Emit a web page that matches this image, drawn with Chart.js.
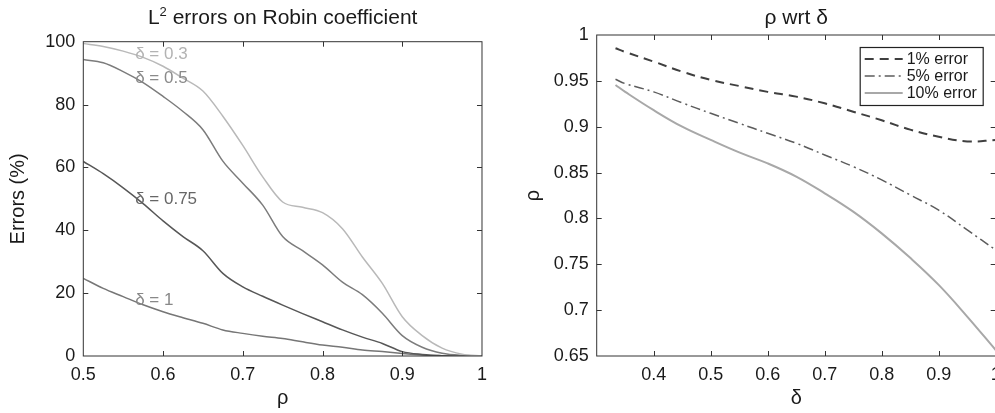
<!DOCTYPE html>
<html>
<head>
<meta charset="utf-8">
<script src="https://cdn.jsdelivr.net/npm/chart.js@4.4.0/dist/chart.umd.min.js"></script>
<style>
html, body { margin: 0; padding: 0; background: #fff; overflow: hidden; width: 995px; height: 413px; }
#c1 { position: absolute; left: 0; top: 0; }
#c2 { position: absolute; left: 500px; top: 0; }
</style>
</head>
<body>
<canvas id="c1" width="495" height="413"></canvas>
<canvas id="c2" width="510" height="413"></canvas>
<script>
// left panel: L2 errors vs rho
const rho = [0.5, 0.525, 0.55, 0.575, 0.6, 0.625, 0.65, 0.675, 0.7, 0.725, 0.75, 0.775, 0.8, 0.825, 0.85, 0.875, 0.9, 0.925, 0.95, 0.975, 1];
const errD03 = [99.4, 98.5, 97.0, 95.0, 92.2, 88.4, 84.3, 76.3, 67.0, 57.0, 49.0, 47.3, 45.6, 40.5, 31.5, 23.1, 12.5, 6.5, 2.5, 0.6, 0];
const errD05 = [94.3, 93.3, 90.5, 87.0, 82.6, 77.8, 72.0, 62.0, 55.0, 48.0, 38.0, 33.5, 29.0, 23.5, 19.5, 13.6, 6.5, 2.8, 0.9, 0.2, 0];
const errD075 = [61.9, 58.0, 53.5, 48.5, 43.0, 38.0, 33.5, 26.3, 22.0, 19.0, 16.2, 13.5, 10.9, 8.3, 6.0, 4.0, 1.4, 0.5, 0.1, 0, 0];
const errD1 = [24.7, 21.5, 18.9, 16.3, 14.1, 12.2, 10.4, 8.3, 7.2, 6.3, 5.6, 4.5, 3.5, 2.8, 1.9, 1.4, 0.8, 0.3, 0.1, 0, 0];
const curveNames = ['δ = 0.3', 'δ = 0.5', 'δ = 0.75', 'δ = 1'];
const curveColors = ['#b9b9b9', '#7c7c7c', '#575757', '#767676'];
const labelColors = ['#b3b3b3', '#8a8a8a', '#666666', '#888888'];
// where each curve name sits (rho, error)
const labelRho = [0.565, 0.565, 0.565, 0.565];
const labelErr = [95.9, 88.2, 50, 17.8];

// right panel: rho vs delta
const delta = [0.333, 0.35, 0.4, 0.45, 0.5, 0.55, 0.6, 0.65, 0.7, 0.75, 0.8, 0.85, 0.9, 0.95, 1.0];
const rho1 = [0.9855, 0.9815, 0.971, 0.960, 0.951, 0.9444, 0.938, 0.9328, 0.9255, 0.9164, 0.907, 0.8968, 0.889, 0.884, 0.8855];
const rho5 = [0.9517, 0.947, 0.938, 0.926, 0.9146, 0.9037, 0.8928, 0.882, 0.8692, 0.8565, 0.842, 0.8256, 0.809, 0.7874, 0.7656];
const rho10 = [0.9455, 0.938, 0.918, 0.900, 0.8856, 0.872, 0.860, 0.8456, 0.8274, 0.8074, 0.7837, 0.757, 0.7275, 0.693, 0.6565];
const legendNames = ['1% error', '5% error', '10% error'];

const FONT = '"Liberation Sans", Arial, Helvetica, sans-serif';
Chart.defaults.font.family = FONT;
Chart.defaults.color = '#1a1a1a';

const fmt = v => String(+v.toFixed(2));
const pts = (xs, ys) => xs.map((x, i) => ({ x: x, y: ys[i] }));

// box + inward tick marks on all four sides
const frame = {
  id: 'frame',
  afterDraw(chart) {
    const { ctx, chartArea: a, scales } = chart;
    ctx.save();
    ctx.strokeStyle = '#333';
    ctx.lineWidth = 1;
    ctx.strokeRect(a.left, a.top, a.right - a.left, a.bottom - a.top);
    const len = 5;
    ctx.beginPath();
    scales.x.ticks.forEach(t => {
      if (t.value <= scales.x.min + 1e-9 || t.value >= scales.x.max - 1e-9) return;
      const p = Math.round(scales.x.getPixelForValue(t.value)) + 0.5;
      ctx.moveTo(p, a.bottom); ctx.lineTo(p, a.bottom - len);
      ctx.moveTo(p, a.top); ctx.lineTo(p, a.top + len);
    });
    scales.y.ticks.forEach(t => {
      if (t.value <= scales.y.min + 1e-9 || t.value >= scales.y.max - 1e-9) return;
      const p = Math.round(scales.y.getPixelForValue(t.value)) + 0.5;
      ctx.moveTo(a.left, p); ctx.lineTo(a.left + len, p);
      ctx.moveTo(a.right, p); ctx.lineTo(a.right - len, p);
    });
    ctx.stroke();
    ctx.restore();
  }
};

// title centred over the plot box; parts = [[text, size, raise], ...]
const boxTitle = {
  id: 'boxTitle',
  afterDraw(chart, args, opts) {
    const { ctx, chartArea: a } = chart;
    ctx.save();
    ctx.fillStyle = '#1a1a1a';
    ctx.textBaseline = 'alphabetic';
    ctx.textAlign = 'left';
    let total = 0;
    const widths = opts.parts.map(p => {
      ctx.font = p[1] + 'px ' + FONT;
      const w = ctx.measureText(p[0]).width;
      total += w;
      return w;
    });
    let x = (a.left + a.right) / 2 - total / 2;
    opts.parts.forEach((p, i) => {
      ctx.font = p[1] + 'px ' + FONT;
      ctx.fillText(p[0], x, opts.baseline - p[2]);
      x += widths[i];
    });
    ctx.restore();
  }
};

const curveLabels = {
  id: 'curveLabels',
  afterDatasetsDraw(chart) {
    const { ctx, scales } = chart;
    ctx.save();
    ctx.font = '17px ' + FONT;
    ctx.textAlign = 'left';
    ctx.textBaseline = 'middle';
    curveNames.forEach((n, i) => {
      ctx.fillStyle = labelColors[i];
      ctx.fillText(n, scales.x.getPixelForValue(labelRho[i]), scales.y.getPixelForValue(labelErr[i]));
    });
    ctx.restore();
  }
};

const boxLegend = {
  id: 'boxLegend',
  afterDraw(chart) {
    const { ctx, chartArea: a } = chart;
    const w = 123, h = 58;
    const x0 = a.right - 136, y0 = a.top + 12;
    ctx.save();
    ctx.fillStyle = '#fff';
    ctx.fillRect(x0, y0, w, h);
    ctx.strokeStyle = '#222';
    ctx.lineWidth = 1.2;
    ctx.strokeRect(x0 + 0.5, y0 + 0.5, w, h);
    ctx.font = '16px ' + FONT;
    ctx.textBaseline = 'middle';
    ctx.textAlign = 'left';
    chart.data.datasets.forEach((ds, i) => {
      const y = y0 + 12 + i * 17;
      ctx.strokeStyle = ds.borderColor;
      ctx.lineWidth = ds.borderWidth;
      ctx.setLineDash(ds.borderDash || []);
      ctx.beginPath();
      ctx.moveTo(x0 + 5, y); ctx.lineTo(x0 + 43, y);
      ctx.stroke();
      ctx.setLineDash([]);
      ctx.fillStyle = '#1a1a1a';
      ctx.fillText(ds.label, x0 + 47, y + 1);
    });
    ctx.restore();
  }
};

function axes(xmin, xmax, xstep, xtitle, ymin, ymax, ystep, ytitle, yw, ytitlePad, xcb) {
  return {
    x: {
      type: 'linear', min: xmin, max: xmax,
      grid: { display: false, drawTicks: false },
      border: { display: false },
      ticks: { stepSize: xstep, font: { size: 18 }, padding: 8, maxRotation: 0, callback: xcb || fmt },
      title: { display: true, text: xtitle, font: { size: 20 }, padding: { top: 0, bottom: 3 } },
      afterFit: s => { s.height = 57; }
    },
    y: {
      min: ymin, max: ymax,
      grid: { display: false, drawTicks: false },
      border: { display: false },
      ticks: { stepSize: ystep, font: { size: 18 }, padding: 8, callback: fmt },
      title: { display: true, text: ytitle, font: { size: 20 }, padding: { top: ytitlePad, bottom: 0 } },
      afterFit: s => { s.width = yw; }
    }
  };
}

const leftSeries = [errD03, errD05, errD075, errD1];

new Chart(document.getElementById('c1'), {
  type: 'line',
  data: {
    datasets: leftSeries.map((s, i) => ({
      label: curveNames[i],
      data: pts(rho, s),
      borderColor: curveColors[i],
      borderWidth: 1.5,
      pointRadius: 0,
      cubicInterpolationMode: 'monotone'
    }))
  },
  options: {
    responsive: false,
    animation: false,
    layout: { padding: { left: 0, right: 11.7, top: 41.7, bottom: 0 } },
    plugins: {
      legend: { display: false },
      tooltip: { enabled: false },
      title: { display: false },
      boxTitle: { baseline: 24, parts: [['L', 21, 0], ['2', 13, 8], [' errors on Robin coefficient', 21, 0]] }
    },
    scales: axes(0.5, 1, 0.1, 'ρ', 0, 100, 20, 'Errors (%)', 83.3, 6)
  },
  plugins: [frame, curveLabels, boxTitle]
});

new Chart(document.getElementById('c2'), {
  type: 'line',
  data: {
    datasets: [
      { label: legendNames[0], data: pts(delta, rho1), borderColor: '#3f3f3f', borderWidth: 2, borderDash: [9, 6] },
      { label: legendNames[1], data: pts(delta, rho5), borderColor: '#5c5c5c', borderWidth: 1.5, borderDash: [10, 4, 2, 4] },
      { label: legendNames[2], data: pts(delta, rho10), borderColor: '#a8a8a8', borderWidth: 2 }
    ].map(d => Object.assign(d, { pointRadius: 0, tension: 0.4 }))
  },
  options: {
    responsive: false,
    animation: false,
    layout: { padding: { left: 0, right: 14.3, top: 35, bottom: 0 } },
    plugins: {
      legend: { display: false },
      tooltip: { enabled: false },
      title: { display: false },
      boxTitle: { baseline: 24, parts: [['ρ wrt δ', 21, 0]] }
    },
    scales: axes(0.3, 1, 0.1, 'δ', 0.65, 1, 0.05, 'ρ', 96.7, 21,
      v => Math.abs(v - 0.3) < 1e-6 ? '' : fmt(v))
  },
  plugins: [frame, boxLegend, boxTitle]
});
</script>
</body>
</html>
